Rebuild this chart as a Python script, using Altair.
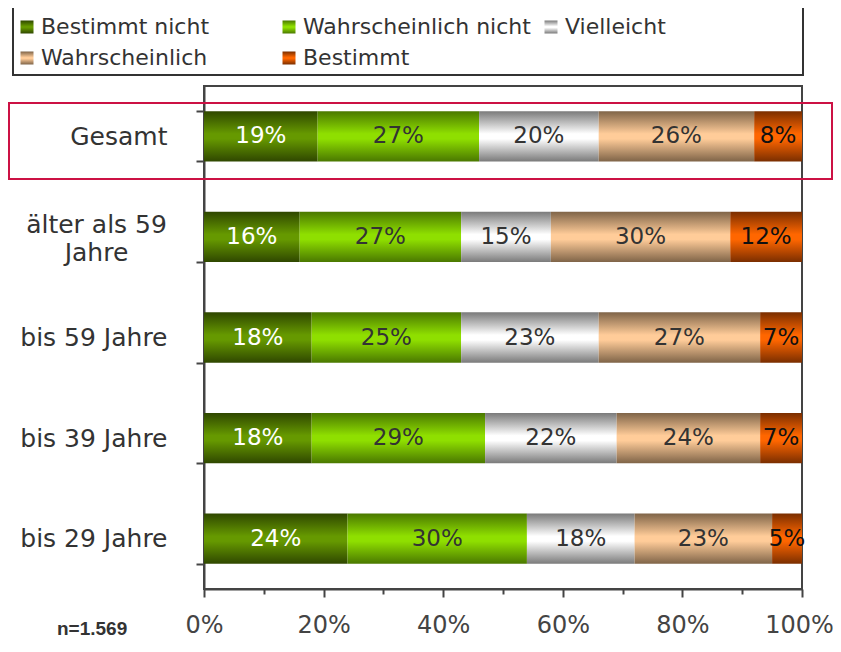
import altair as alt
import pandas as pd

groups = ["Gesamt", "älter als 59 Jahre", "bis 59 Jahre", "bis 39 Jahre", "bis 29 Jahre"]
answers = ["Bestimmt nicht", "Wahrscheinlich nicht", "Vielleicht", "Wahrscheinlich", "Bestimmt"]
bestimmt_nicht = [19, 16, 18, 18, 24]
wahrscheinlich_nicht = [27, 27, 25, 29, 30]
vielleicht = [20, 15, 23, 22, 18]
wahrscheinlich = [26, 30, 27, 24, 23]
bestimmt = [8, 12, 7, 7, 5]
x_ticks = [0, 10, 20, 30, 40, 50, 60, 70, 80, 90, 100]
note = "n=1.569"

mid_colors = ["#669900", "#8fdf00", "#ffffff", "#ffcc99", "#ff6600"]
edge_colors = ["#2f4700", "#4a7800", "#7a7a7a", "#7f6448", "#7a2e00"]
label_colors = ["#ffffff", "#333333", "#333333", "#333333", "#111111"]

series = [bestimmt_nicht, wahrscheinlich_nicht, vielleicht, wahrscheinlich, bestimmt]
rows = []
for ai, (ans, vals) in enumerate(zip(answers, series)):
    for g, v in zip(groups, vals):
        rows.append({"group": g, "answer": ans, "value": v, "order": ai,
                     "lcolor": label_colors[ai]})
df = pd.DataFrame(rows)

FONT = "DejaVu Sans"


def grad_expr(mid, edge):
    return (
        "{gradient: 'linear', x1: 0, y1: 0, x2: 0, y2: 1, stops: ["
        f"{{offset: 0, color: '{edge}'}}, {{offset: 0.45, color: '{mid}'}}, "
        f"{{offset: 0.55, color: '{mid}'}}, {{offset: 1, color: '{edge}'}}]}}"
    )


grad_range = [alt.ExprRef(expr=grad_expr(m, e)) for m, e in zip(mid_colors, edge_colors)]

base = alt.Chart(df).transform_stack(
    stack="value", groupby=["group"], sort=[alt.SortField("order")], as_=["start", "end"]
).transform_calculate(mid="(datum.start + datum.end) / 2", label="datum.value + '%'")

MULTI = "datum.value == 'älter als 59 Jahre'"

x_scale = alt.Scale(domain=[0, 100], nice=False, zero=True)
x_axis = alt.Axis(
    title=None, values=x_ticks, grid=False,
    labelExpr="datum.value % 20 == 0 ? datum.value + '%' : ''",
    labelFontSize=24, labelColor="#444444", labelFont=FONT, labelPadding=16,
    labelFlush=False, labelOverlap=False,
    labelOffset={"condition": {"test": "datum.value == 100", "value": -3}, "value": 0},
    tickSize={"condition": {"test": "datum.value % 20 == 0", "value": 8}, "value": 5},
    tickColor="#444444", tickWidth=2, domainColor="#444444", domainWidth=2,
)
y_enc = alt.Y(
    "group:N", sort=groups,
    scale=alt.Scale(paddingInner=0.5, paddingOuter=0.25),
    axis=alt.Axis(
        title=None, grid=False, tickBand="extent", tickSize=8, tickColor="#444444", tickWidth=2,
        domainColor="#444444", domainWidth=2,
        labelFontSize=25, labelColor="#333333", labelFont=FONT, labelLimit=400,
        labelLineHeight=28,
        labelExpr="datum.value == 'älter als 59 Jahre' ? ['älter als 59', 'Jahre'] : datum.label",
        labelAlign={"condition": {"test": MULTI, "value": "center"}, "value": "right"},
        labelPadding={"condition": {"test": MULTI, "value": 100}, "value": 29},
        labelOffset={"condition": {"test": MULTI, "value": -12}, "value": 0},
    ),
)

bars = base.mark_bar().encode(
    x=alt.X("start:Q", scale=x_scale, axis=x_axis), x2="end:Q", y=y_enc,
    color=alt.Color(
        "answer:N", sort=answers,
        scale=alt.Scale(domain=answers, range=grad_range),
        legend=alt.Legend(
            title=None, orient="none", legendX=-196, legendY=-78, columns=3,
            direction="horizontal", gridAlign="all", columnPadding=9, rowPadding=9,
            symbolType="square", symbolSize=169, symbolStrokeWidth=0, symbolOpacity=1,
            labelFontSize=22, labelColor="#333333", labelFont=FONT, labelOffset=3,
            labelLimit=400, padding=8,
        ),
    ),
)

text_layer = base.mark_text(font=FONT, fontSize=23, baseline="middle", align="center").encode(
    x=alt.X("mid:Q", scale=x_scale, axis=x_axis),
    y=y_enc,
    text=alt.Text("label:N"),
    color=alt.Color("lcolor:N", scale=None),
)

dummy = pd.DataFrame({"a": [0]})
legend_box = alt.Chart(dummy).mark_rect(fillOpacity=0, stroke="#333333", strokeWidth=2).encode(
    x=alt.value(-191), x2=alt.value(599), y=alt.value(-79), y2=alt.value(-11)
)
red_box = alt.Chart(dummy).mark_rect(fillOpacity=0, stroke="#cc1144", strokeWidth=2).encode(
    x=alt.value(-195), x2=alt.value(628), y=alt.value(17), y2=alt.value(93)
)
note_text = alt.Chart(pd.DataFrame({"t": [note]})).mark_text(
    font="Liberation Sans", fontWeight="bold", fontSize=19, align="left", baseline="alphabetic",
    color="#333333",
).encode(x=alt.value(-147), y=alt.value(549), text="t:N")

chart = alt.layer(bars, text_layer, legend_box, red_box, note_text).properties(
    width=598, height=503, autosize="none",
    padding={"left": 196, "top": 78, "right": 31, "bottom": 52},
    background="white",
).configure(font=FONT).configure_view(stroke="#444444", strokeWidth=2)

chart.save("out.html", embed_options={"renderer": "svg", "actions": False})
